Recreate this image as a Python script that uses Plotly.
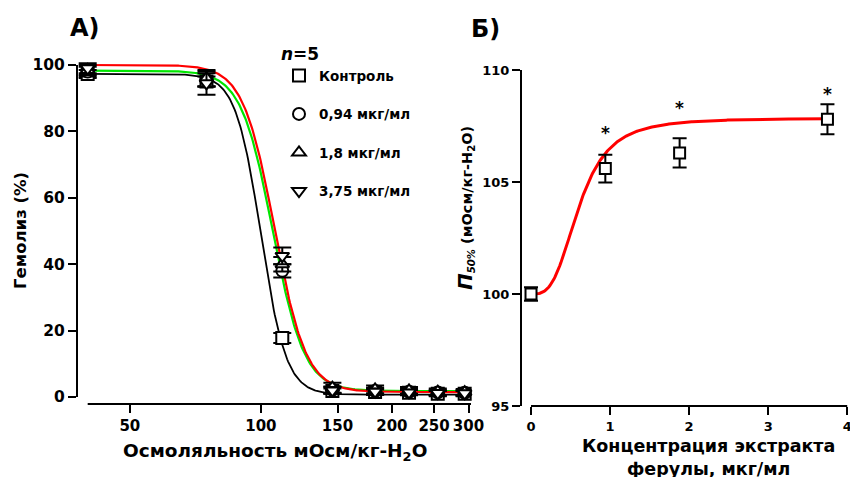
import numpy as np
import plotly.graph_objects as go

W, H = 850, 477

# Гемолиз эритроцитов в зависимости от осмоляльности среды
osm = [40, 75, 112, 146, 183, 219, 255, 294]
hem_ctrl = [97.3, 95.0, 17.8, 1.8, 1.5, 1.3, 1.0, 1.0]
err_ctrl = [1.2, 1.5, 1.5, 0.8, 0.8, 0.8, 0.8, 0.8]
hem_094 = [98.0, 95.5, 38.0, 2.2, 1.8, 1.6, 1.4, 1.3]
err_094 = [1.5, 2.0, 2.0, 1.0, 1.0, 0.8, 0.8, 0.8]
hem_18 = [98.5, 96.0, 40.0, 2.8, 2.3, 2.0, 1.6, 1.5]
err_18 = [1.5, 2.5, 2.2, 1.5, 1.2, 1.0, 1.0, 0.9]
hem_375 = [99.0, 94.5, 42.5, 2.0, 1.6, 1.4, 1.2, 1.1]
err_375 = [1.5, 3.5, 2.5, 1.0, 1.0, 0.8, 0.8, 0.8]

series_names = ["Контроль", "0,94 мкг/мл", "1,8 мкг/мл", "3,75 мкг/мл"]
series_symbols = ["square", "circle", "triangle-up", "triangle-down"]

# параметры сигмоидальной аппроксимации (верх, низ, П50, наклон)
fit_ctrl = (97.3, 0.7, 100.0, 15.0)
fit_green = (98.3, 1.8, 106.5, 12.0)
fit_red = (100.0, 1.5, 107.5, 12.0)

# П50 в зависимости от концентрации экстракта
conc = [0, 0.94, 1.88, 3.75]
p50 = [100.0, 105.6, 106.3, 107.8]
p50_err = [0.3, 0.62, 0.65, 0.67]
sig_conc = [0.94, 1.88, 3.75]
sig_y = [107.2, 108.3, 108.92]
fit_p50 = (100.0, 7.85, 0.61, 3.2)

x_ticks_a = [50, 100, 150, 200, 250, 300]
y_ticks_a = [0, 20, 40, 60, 80, 100]
x_ticks_b = [0, 1, 2, 3, 4]
y_ticks_b = [95, 100, 105, 110]


def px(x):
    return x / W


def py(y):
    return 1 - y / H


def sigmoid(x, top, bottom, x50, h):
    x = np.asarray(x, dtype=float)
    return bottom + (top - bottom) / (1 + (x / x50) ** h)


def hill(x, base, span, ec50, h):
    x = np.asarray(x, dtype=float)
    return base + span * x ** h / (ec50 ** h + x ** h)


fig = go.Figure()

xs = np.geomspace(40, 300, 400)
for params, color, width in [(fit_ctrl, "black", 1.8), (fit_green, "#00e600", 2.2),
                             (fit_red, "#ff0000", 2.2)]:
    fig.add_trace(go.Scatter(x=xs, y=sigmoid(xs, *params), mode="lines",
                             line=dict(color=color, width=width),
                             showlegend=False, hoverinfo="skip",
                             xaxis="x", yaxis="y"))

for i, (vals, errs) in enumerate([(hem_ctrl, err_ctrl), (hem_094, err_094),
                                  (hem_18, err_18), (hem_375, err_375)]):
    fig.add_trace(go.Scatter(
        x=osm, y=vals, mode="markers", name=series_names[i],
        legendgroup=f"g{i}",
        marker=dict(symbol=series_symbols[i], size=12, color="white",
                    line=dict(color="black", width=2)),
        error_y=dict(type="data", array=errs, color="black", thickness=2, width=9),
        cliponaxis=False, xaxis="x", yaxis="y"))

cs = np.linspace(0, 3.75, 300)
fig.add_trace(go.Scatter(x=cs, y=hill(cs, *fit_p50), mode="lines",
                         line=dict(color="#ff0000", width=3),
                         showlegend=False, hoverinfo="skip",
                         xaxis="x2", yaxis="y2"))
fig.add_trace(go.Scatter(
    x=conc, y=p50, mode="markers", showlegend=False,
    marker=dict(symbol="square", size=11, color="white",
                line=dict(color="black", width=2)),
    error_y=dict(type="data", array=p50_err, color="black", thickness=2, width=7),
    cliponaxis=False, xaxis="x2", yaxis="y2"))

tick_common = dict(ticks="outside", ticklen=8, tickwidth=2, tickcolor="black",
                   showgrid=False, zeroline=False, automargin=False,
                   ticklabeloverflow="allow")

fig.update_layout(
    template="none",
    width=W, height=H,
    margin=dict(l=0, r=0, t=0, b=0, pad=0, autoexpand=False),
    paper_bgcolor="white", plot_bgcolor="white",
    font=dict(family="DejaVu Sans", weight="bold", color="black", size=15),
    xaxis=dict(type="log", domain=[px(77), px(471)],
               range=[np.log10(37.8), np.log10(304)],
               tickvals=x_ticks_a, ticktext=[str(v) for v in x_ticks_a],
               tickfont=dict(size=15), anchor="y", showline=False, **tick_common),
    yaxis=dict(domain=[py(404), py(60)], range=[-2.1, 101.5],
               tickvals=y_ticks_a, tickfont=dict(size=15.5), anchor="x",
               showline=False, **tick_common),
    xaxis2=dict(domain=[px(522), px(848)], range=[-0.114, 4.01],
                tickvals=x_ticks_b, tickfont=dict(size=13), anchor="y2",
                showline=False, **tick_common),
    yaxis2=dict(domain=[py(406), py(70)], range=[95, 110],
                tickvals=y_ticks_b, tickfont=dict(size=13), anchor="x2",
                showline=True, linecolor="black", linewidth=2, **tick_common),
    legend=dict(x=px(279), y=py(38), xanchor="left", yanchor="top",
                bgcolor="rgba(0,0,0,0)", font=dict(size=13.5),
                tracegroupgap=18, traceorder="grouped",
                title=dict(text="<i>n</i>=5", font=dict(size=17))),
    showlegend=True,
)

# оси левого графика со смещением от угла
fig.add_shape(type="line", xref="x domain", yref="y", x0=0, x1=0, y0=0, y1=100,
              line=dict(color="black", width=2))
fig.add_shape(type="line", xref="x", yref="y domain", x0=40, x1=304, y0=0, y1=0,
              line=dict(color="black", width=2))
# ось X правого графика
fig.add_shape(type="line", xref="x2", yref="y2 domain", x0=0, x1=4, y0=0, y1=0,
              line=dict(color="black", width=2))

for xc, yc in zip(sig_conc, sig_y):
    fig.add_annotation(x=xc, y=yc, xref="x2", yref="y2", text="*", showarrow=False,
                       font=dict(size=17))

ann = [
    ("А)", 85, 28, 24, 0),
    ("Б)", 485, 29, 24, 0),
    ("Гемолиз (%)", 20, 231, 16.5, -90),
    ("Осмоляльность мОсм/кг-H<sub>2</sub>O", 275, 452, 18.5, 0),
    ("<span style='font-size:20px'><i>П</i></span><i><sub>50%</sub></i> (мОсм/кг-H<sub>2</sub>O)",
     465, 208, 14.5, -90),
    ("Концентрация экстракта<br>ферулы, мкг/мл", 708, 457, 17.5, 0),
]
for text, x, y, size, angle in ann:
    fig.add_annotation(x=px(x), y=py(y), xref="paper", yref="paper", text=text,
                       showarrow=False, textangle=angle, font=dict(size=size),
                       xanchor="center", yanchor="middle")

fig.write_html("out.html")
